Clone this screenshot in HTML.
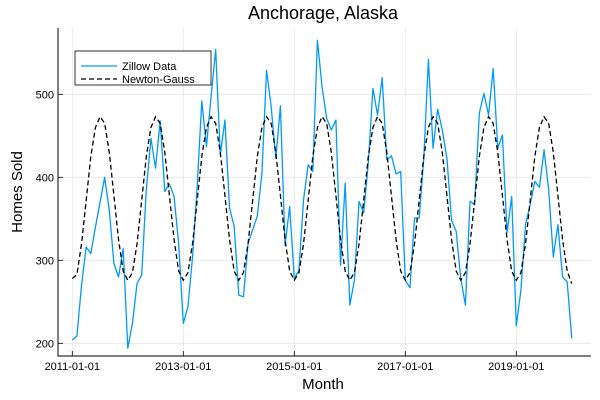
<!DOCTYPE html>
<html><head><meta charset="utf-8"><style>
body{margin:0;background:#fff}
svg{display:block;font-family:"Liberation Sans","DejaVu Sans",sans-serif}
</style></head><body>
<svg id="chart" width="600" height="400">
<rect width="600" height="400" fill="#fff"/>
<text x="323" y="19" text-anchor="middle" font-size="18">Anchorage, Alaska</text>
<g id="grid"></g>
<g id="axes"></g>
<g id="series"></g>
<text x="323" y="389" text-anchor="middle" font-size="15">Month</text>
<text transform="translate(22,192) rotate(-90)" text-anchor="middle" font-size="15">Homes Sold</text>
<g>
<rect x="75" y="51" width="136" height="34" fill="#fff" stroke="#000" stroke-width="0.8"/>
<line x1="81" y1="66" x2="117" y2="66" stroke="#009af9" stroke-width="1.3"/>
<text x="122" y="70" font-size="11">Zillow Data</text>
<line x1="81" y1="79" x2="117" y2="79" stroke="#000" stroke-width="1.3" stroke-dasharray="5,3"/>
<text x="122" y="83" font-size="11">Newton-Gauss</text>
</g>
</svg>
<script>
const zillow=[204,209,270,316,308,340,370,400,360,296,280,314,194,224,272,282,385,447,411,468,383,392,377,320,224,244,304,389,492,437,497,554,427,469,363,341,258,256,320,337,353,405,529,485,423,486,318,365,278,288,373,415,407,565,509,471,457,469,294,393,246,276,371,357,417,507,475,520,421,426,404,407,276,267,351,351,423,542,435,482,457,423,348,335,278,246,371,367,477,501,475,531,435,451,333,377,221,264,343,367,395,388,433,385,304,343,280,274,206];
const fit=[278,283,320,372,425,460,473,465,430,378,325,287,276,285,320,372,425,460,473,465,430,378,325,287,276,285,320,372,425,460,473,465,430,378,325,287,276,285,320,372,425,460,473,465,430,378,325,287,276,285,320,372,425,460,473,465,430,378,325,287,276,285,320,372,425,460,473,465,430,378,325,287,276,285,320,372,425,460,473,465,430,378,325,287,276,285,320,372,425,460,473,465,430,378,325,287,276,285,320,372,425,460,473,465,430,378,325,287,272];
const yTicks=[200,300,400,500];
const xTickLabels=["2011-01-01","2013-01-01","2015-01-01","2017-01-01","2019-01-01"];
const xTickMonths=[0,24,48,72,96];
const NS="http://www.w3.org/2000/svg";
const X=m=>72.3+4.625*m;
const Y=v=>343.3-0.83*(v-200);
const L=58,R=591,T=28,B=356;
function mk(tag,attrs,parent){const e=document.createElementNS(NS,tag);for(const k in attrs)e.setAttribute(k,attrs[k]);parent.appendChild(e);return e;}
const grid=document.getElementById('grid'),axes=document.getElementById('axes'),series=document.getElementById('series');
yTicks.forEach(v=>{
 const g=mk('line',{x1:L,x2:R,y1:Y(v),y2:Y(v),stroke:'#e6e6e6','stroke-width':0.8},grid);
 
 
 const t=mk('line',{x1:L,x2:L+5,y1:Y(v),y2:Y(v),stroke:'#000','stroke-width':0.8},axes);
 
 
 const lb=mk('text',{x:L-4,y:Y(v)+4,'text-anchor':'end','font-size':11},axes);
 lb.textContent=v;
 
 
});
xTickMonths.forEach((m,i)=>{
 const g=mk('line',{x1:X(m),x2:X(m),y1:T,y2:B,stroke:'#e6e6e6','stroke-width':0.8},grid);
 
 
 const t=mk('line',{x1:X(m),x2:X(m),y1:B,y2:B-5,stroke:'#000','stroke-width':0.8},axes);
 
 
 const lb=mk('text',{x:X(m),y:B+14,'text-anchor':'middle','font-size':11},axes);
 lb.textContent=xTickLabels[i];
 
 
});
const ax=mk('path',{d:`M${L},${T}V${B}H${R}`,fill:'none',stroke:'#000','stroke-width':1},axes);


const zl=mk('polyline',{points:zillow.map((v,i)=>X(i)+','+Y(v)).join(' '),fill:'none',stroke:'#009af9','stroke-width':1.3,'stroke-linejoin':'round'},series);


const fl=mk('polyline',{points:fit.map((v,i)=>X(i)+','+Y(v)).join(' '),fill:'none',stroke:'#000','stroke-width':1.3,'stroke-dasharray':'5,3'},series);


</script>
</body></html>
